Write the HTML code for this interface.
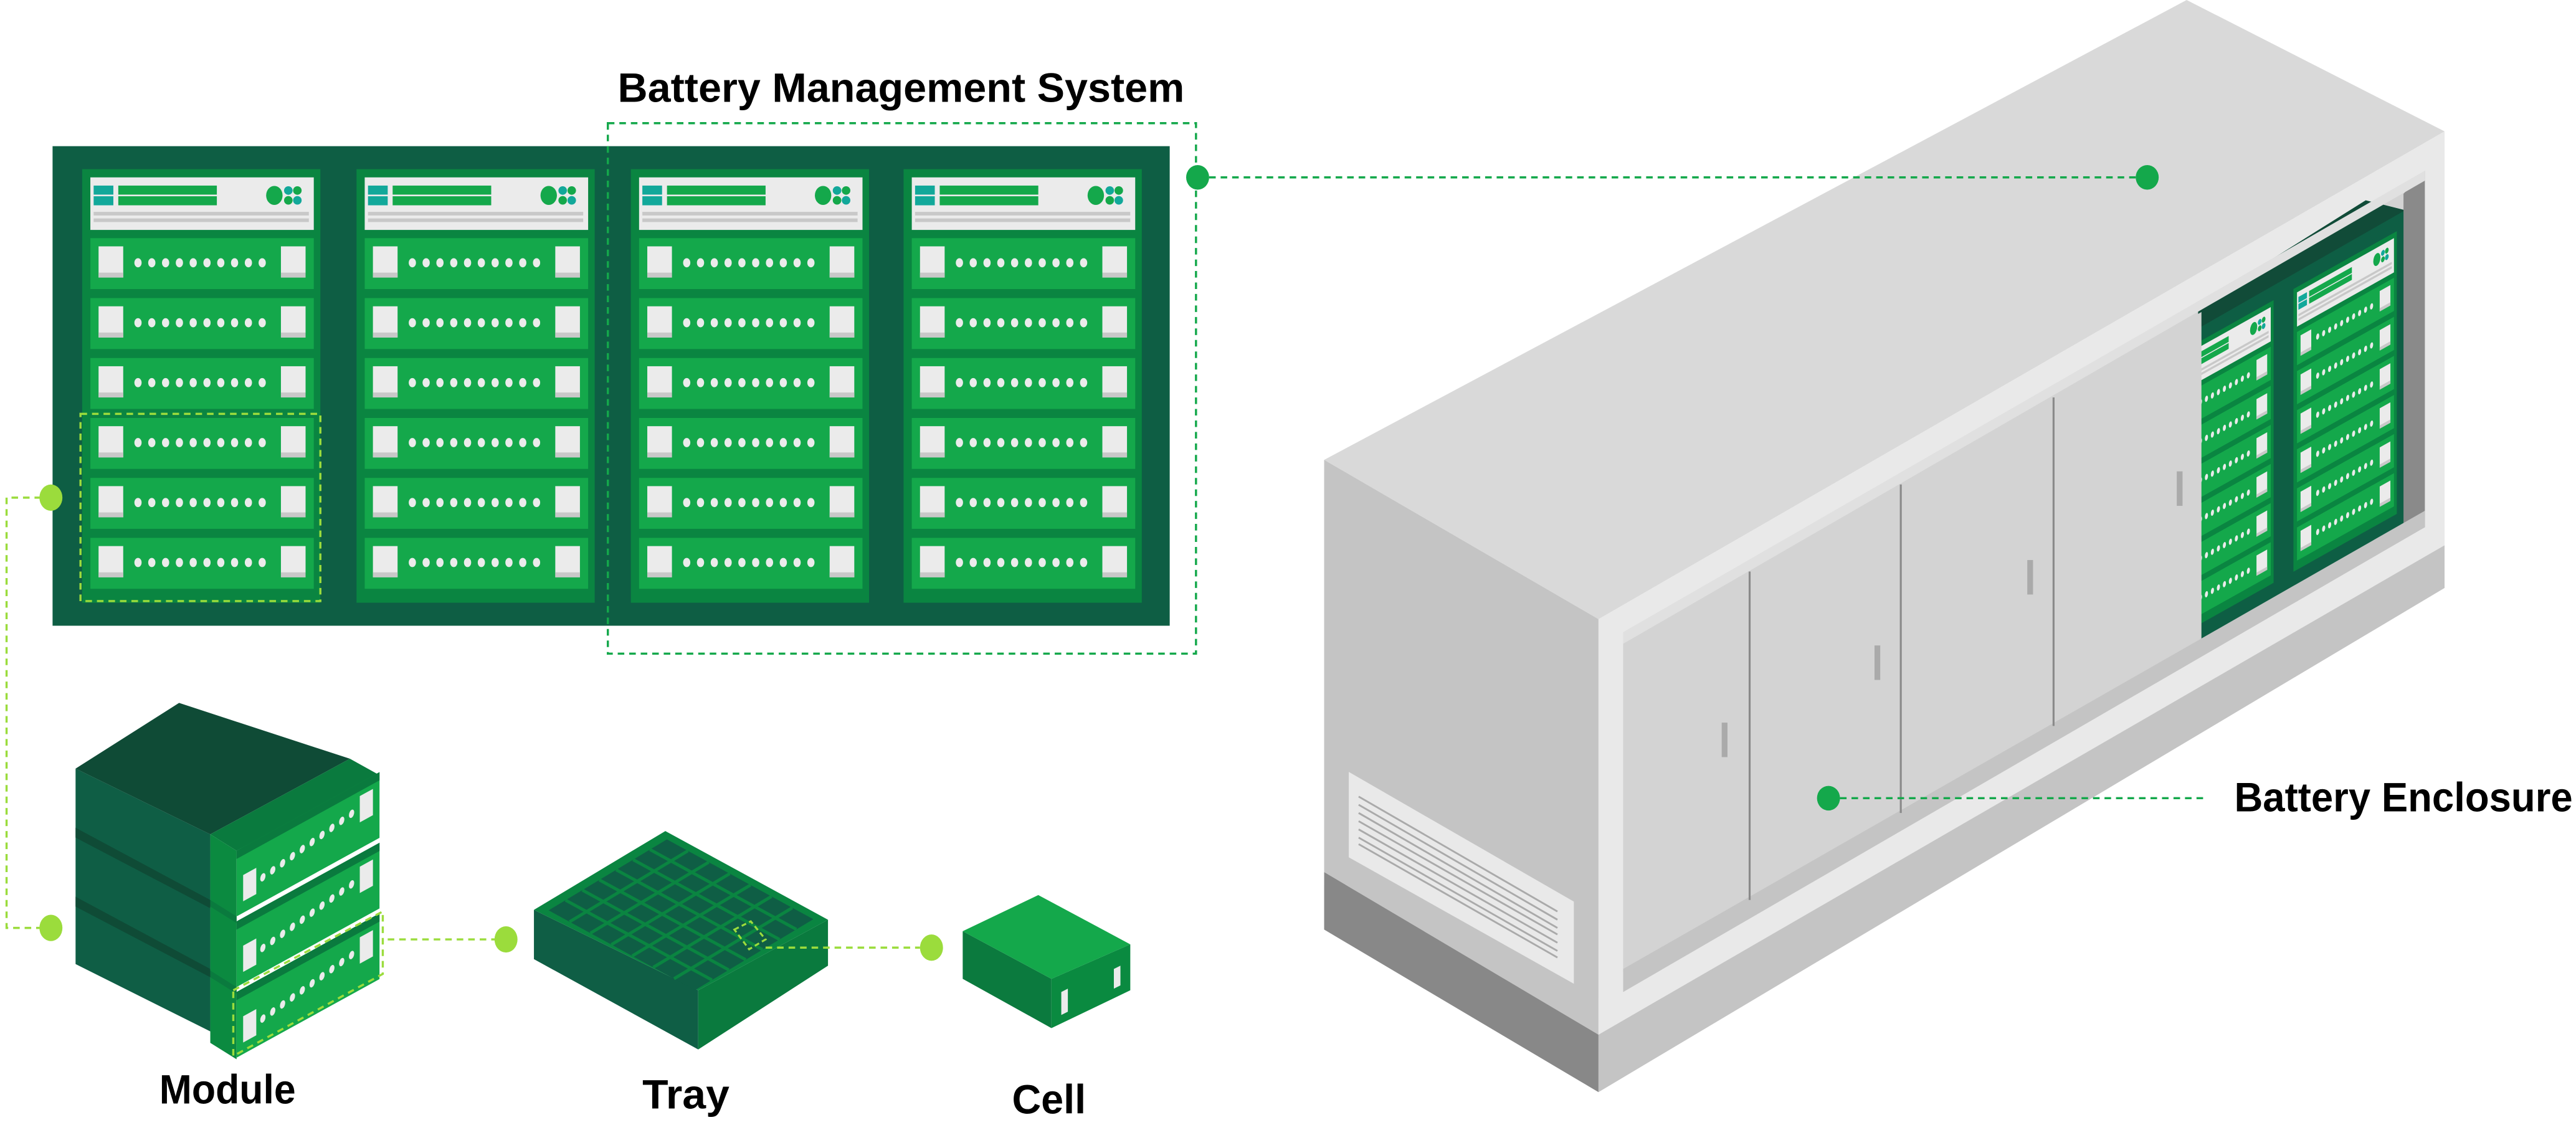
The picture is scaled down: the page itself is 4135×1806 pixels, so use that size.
<!DOCTYPE html>
<html><head><meta charset="utf-8"><style>
html,body{margin:0;padding:0;background:#fff}
svg{display:block}
text{font-family:"Liberation Sans",sans-serif;font-weight:bold;fill:#000}
</style></head><body>
<svg width="4135" height="1806" viewBox="0 0 1568 685" preserveAspectRatio="none" xmlns="http://www.w3.org/2000/svg">
<defs>
<g id="mod">
<rect x="0" y="0" width="136" height="31" fill="#14A84B"/>
<rect x="5" y="5" width="15" height="19" fill="#EBEBEB"/><rect x="5" y="21" width="15" height="3" fill="#C8C8C8"/>
<rect x="116" y="5" width="15" height="19" fill="#EBEBEB"/><rect x="116" y="21" width="15" height="3" fill="#C8C8C8"/>
<g fill="#EBEBEB">
<ellipse cx="29" cy="15" rx="2.2" ry="2.8"/><ellipse cx="37.4" cy="15" rx="2.2" ry="2.8"/><ellipse cx="45.8" cy="15" rx="2.2" ry="2.8"/><ellipse cx="54.2" cy="15" rx="2.2" ry="2.8"/><ellipse cx="62.6" cy="15" rx="2.2" ry="2.8"/><ellipse cx="71" cy="15" rx="2.2" ry="2.8"/><ellipse cx="79.4" cy="15" rx="2.2" ry="2.8"/><ellipse cx="87.8" cy="15" rx="2.2" ry="2.8"/><ellipse cx="96.2" cy="15" rx="2.2" ry="2.8"/><ellipse cx="104.6" cy="15" rx="2.2" ry="2.8"/>
</g>
</g>
<g id="col">
<rect x="0" y="0" width="145" height="264" fill="#0A8541"/>
<rect x="5" y="5" width="136" height="32" fill="#EBEBEB"/>
<rect x="7" y="10" width="12" height="5.5" fill="#12A89A"/><rect x="7" y="16.5" width="12" height="5.5" fill="#12A89A"/>
<rect x="22" y="10" width="60" height="5.5" fill="#14A84B"/><rect x="22" y="16.5" width="60" height="5.5" fill="#14A84B"/>
<ellipse cx="117" cy="16" rx="5" ry="5.8" fill="#14A84B"/>
<circle cx="125.5" cy="13" r="2.6" fill="#12A89A"/><circle cx="131" cy="13" r="2.6" fill="#14A84B"/>
<circle cx="125.5" cy="19" r="2.6" fill="#14A84B"/><circle cx="131" cy="19" r="2.6" fill="#12A89A"/>
<rect x="7" y="26" width="131" height="2.2" fill="#C8C8C8"/><rect x="7" y="30" width="131" height="2.2" fill="#C8C8C8"/>
<use href="#mod" x="5" y="42"/><use href="#mod" x="5" y="78.5"/><use href="#mod" x="5" y="115"/>
<use href="#mod" x="5" y="151.5"/><use href="#mod" x="5" y="188"/><use href="#mod" x="5" y="224.5"/>
</g>
<g id="fmod">
<rect x="0" y="0" width="87" height="40" fill="#14A84B"/>
<rect x="0" y="0" width="87" height="5" fill="#0A7A3E"/>
<rect x="4" y="17" width="8" height="16" fill="#EBEBEB"/>
<rect x="75" y="8" width="8" height="16" fill="#EBEBEB"/>
<g fill="#EBEBEB"><ellipse cx="16" cy="25" rx="1.6" ry="2.4"/><ellipse cx="22" cy="24" rx="1.6" ry="2.4"/><ellipse cx="28" cy="23" rx="1.6" ry="2.4"/><ellipse cx="34" cy="22" rx="1.6" ry="2.4"/><ellipse cx="40" cy="21" rx="1.6" ry="2.4"/><ellipse cx="46" cy="20" rx="1.6" ry="2.4"/><ellipse cx="52" cy="19" rx="1.6" ry="2.4"/><ellipse cx="58" cy="18" rx="1.6" ry="2.4"/><ellipse cx="64" cy="17" rx="1.6" ry="2.4"/><ellipse cx="70" cy="16" rx="1.6" ry="2.4"/></g>
</g>
</defs>

<rect x="32" y="89" width="680" height="292" fill="#0E5E44"/>
<use href="#col" x="50" y="103"/><use href="#col" x="217" y="103"/><use href="#col" x="384" y="103"/><use href="#col" x="550" y="103"/>

<rect x="370" y="75" width="358" height="323" fill="none" stroke="#14A84B" stroke-width="1.3" stroke-dasharray="4 3"/>
<text x="376" y="62" font-size="25" textLength="345" lengthAdjust="spacingAndGlyphs">Battery Management System</text>

<rect x="49" y="252" width="146" height="114" fill="none" stroke="#9BDC3C" stroke-width="1.3" stroke-dasharray="4 3"/>
<polyline points="25,303 4,303 4,565 25,565" fill="none" stroke="#9BDC3C" stroke-width="1.3" stroke-dasharray="4 3"/>
<ellipse cx="31" cy="303" rx="7" ry="8" fill="#9BDC3C"/>
<ellipse cx="31" cy="565" rx="7" ry="8" fill="#9BDC3C"/>

<polygon points="46,468 128,508 128,628 46,587" fill="#0F5E45"/>
<polygon points="46,504 128,548 128,553 46,510" fill="#0F4B36"/>
<polygon points="46,546 128,590 128,595 46,552" fill="#0F4B36"/>
<polygon points="109,428 46,468 128,508 213,462" fill="#0F4B36"/>
<polygon points="128,508 213,462 231,472 144,518" fill="#0A7A3E"/>
<polygon points="128,508 144,518 144,645 128,635" fill="#0B8A40"/>
<polygon points="128,548 144,558 144,562 128,552" fill="#0A7A3E"/>
<polygon points="128,591 144,601 144,605 128,595" fill="#0A7A3E"/>
<g transform="translate(144,518) matrix(1,-0.55,0,1,0,0)"><use href="#fmod"/></g>
<g transform="translate(144,561) matrix(1,-0.55,0,1,0,0)"><use href="#fmod"/></g>
<g transform="translate(144,604) matrix(1,-0.55,0,1,0,0)"><use href="#fmod"/></g>
<polygon points="142,603 233,555 233,593 142,643" fill="none" stroke="#9BDC3C" stroke-width="1.3" stroke-dasharray="4 3"/>
<line x1="236" y1="572" x2="302" y2="572" stroke="#9BDC3C" stroke-width="1.3" stroke-dasharray="4 3"/>
<ellipse cx="308" cy="572" rx="7" ry="8" fill="#9BDC3C"/>

<polygon points="325,554 425,603 425,639 325,584" fill="#0F5E45"/>
<polygon points="425,603 504,560 504,588 425,639" fill="#0A7A3E"/>
<polygon points="405,506 504,560 425,603 325,554" fill="#0A8541"/>
<g transform="matrix(0.99,0.54,-0.80,0.48,405,506)">
<rect x="5" y="5" width="90" height="90" fill="#0F5E45"/>
<g stroke="#0A8541">
<line x1="5" y1="17.9" x2="95" y2="17.9" stroke-width="5" vector-effect="non-scaling-stroke"/><line x1="5" y1="30.7" x2="95" y2="30.7" stroke-width="5" vector-effect="non-scaling-stroke"/><line x1="5" y1="43.6" x2="95" y2="43.6" stroke-width="5" vector-effect="non-scaling-stroke"/><line x1="5" y1="56.4" x2="95" y2="56.4" stroke-width="5" vector-effect="non-scaling-stroke"/><line x1="5" y1="69.3" x2="95" y2="69.3" stroke-width="5" vector-effect="non-scaling-stroke"/><line x1="5" y1="82.1" x2="95" y2="82.1" stroke-width="5" vector-effect="non-scaling-stroke"/>
<line y1="5" x1="17.9" y2="95" x2="17.9" stroke-width="5" vector-effect="non-scaling-stroke"/><line y1="5" x1="30.7" y2="95" x2="30.7" stroke-width="5" vector-effect="non-scaling-stroke"/><line y1="5" x1="43.6" y2="95" x2="43.6" stroke-width="5" vector-effect="non-scaling-stroke"/><line y1="5" x1="56.4" y2="95" x2="56.4" stroke-width="5" vector-effect="non-scaling-stroke"/><line y1="5" x1="69.3" y2="95" x2="69.3" stroke-width="5" vector-effect="non-scaling-stroke"/><line y1="5" x1="82.1" y2="95" x2="82.1" stroke-width="5" vector-effect="non-scaling-stroke"/>
</g>
</g>
<polygon points="447,566 457,561 466,572 456,578" fill="none" stroke="#9BDC3C" stroke-width="1.2" stroke-dasharray="3 2"/>
<line x1="466" y1="577" x2="560" y2="577" stroke="#9BDC3C" stroke-width="1.3" stroke-dasharray="4 3"/>
<ellipse cx="567" cy="577" rx="7" ry="8" fill="#9BDC3C"/>

<polygon points="586,567 640,596 640,626 586,596" fill="#0B7A3E"/>
<polygon points="640,596 688,575 688,603 640,626" fill="#0A8A40"/>
<polygon points="632,545 688,575 640,596 586,567" fill="#14A84B"/>
<polygon points="646,604 650,602 650,616 646,618" fill="#EBEBEB"/>
<polygon points="678,590 682,588 682,600 678,602" fill="#EBEBEB"/>

<text x="97" y="672" font-size="25" textLength="83" lengthAdjust="spacingAndGlyphs">Module</text>
<text x="391" y="675" font-size="25" textLength="53" lengthAdjust="spacingAndGlyphs">Tray</text>
<text x="616" y="678" font-size="25" textLength="45" lengthAdjust="spacingAndGlyphs">Cell</text>

<polygon points="806,280 1331,0 1488,80 973,377" fill="#D9D9D9"/>
<polygon points="806,280 973,377 973,630 806,531" fill="#C4C4C4"/>
<polygon points="806,531 973,630 973,665 806,566" fill="#888888"/>
<polygon points="973,377 1488,80 1488,332 973,630" fill="#E9E9E9"/>
<polygon points="973,630 1488,332 1488,358 973,665" fill="#C4C4C4"/>
<polygon points="821,470 958,549 958,599 821,522" fill="#E9E9E9"/>
<g stroke="#AAAAAA" stroke-width="1.1">
<line x1="827" y1="485" x2="948" y2="555"/><line x1="827" y1="490" x2="948" y2="560"/><line x1="827" y1="495" x2="948" y2="565"/><line x1="827" y1="500" x2="948" y2="569"/><line x1="827" y1="505" x2="948" y2="574"/><line x1="827" y1="510" x2="948" y2="579"/><line x1="827" y1="514" x2="948" y2="583"/>
</g>
<polygon points="988,385 1476,104 1476,321 988,604" fill="#D3D3D3"/>
<polygon points="1338,186 1440,122 1464,128 1464,322 1338,392" fill="#0E5E44"/>
<polygon points="1338,186 1440,122 1464,128 1338,200" fill="#114B38"/>
<g transform="translate(1321,218) matrix(0.434,-0.243,0,0.652,0,0)"><use href="#col"/></g>
<g transform="translate(1396,176) matrix(0.434,-0.243,0,0.652,0,0)"><use href="#col"/></g>
<polygon points="1463,118 1476,104 1476,321 1463,328" fill="#8A8A8A"/>
<polygon points="988,392 1340,190 1340,390 988,592" fill="#D3D3D3"/>
<polygon points="988,385 1476,104 1476,110 988,392" fill="#E0E0E0"/>
<polygon points="988,590 1476,311 1476,321 988,604" fill="#C4C4C4"/>
<g stroke="#8A8A8A" stroke-width="1.2">
<line x1="1065" y1="348" x2="1065" y2="548"/><line x1="1157" y1="295" x2="1157" y2="495"/><line x1="1250" y1="242" x2="1250" y2="442"/>
</g>
<g fill="#AAAAAA">
<rect x="1048" y="440" width="3.5" height="21"/><rect x="1141" y="393" width="3.5" height="21"/><rect x="1234" y="341" width="3.5" height="21"/><rect x="1325" y="287" width="3.5" height="21"/>
</g>

<line x1="736" y1="108" x2="1300" y2="108" stroke="#14A84B" stroke-width="1.3" stroke-dasharray="4 3"/>
<ellipse cx="729" cy="108" rx="7" ry="7.5" fill="#14A84B"/>
<ellipse cx="1307" cy="108" rx="7" ry="7.5" fill="#14A84B"/>

<line x1="1120" y1="486" x2="1342" y2="486" stroke="#14A84B" stroke-width="1.3" stroke-dasharray="4 3"/>
<ellipse cx="1113" cy="486" rx="7" ry="7.5" fill="#14A84B"/>
<text x="1360" y="494" font-size="25" textLength="206" lengthAdjust="spacingAndGlyphs">Battery Enclosure</text>
</svg>
</body></html>
